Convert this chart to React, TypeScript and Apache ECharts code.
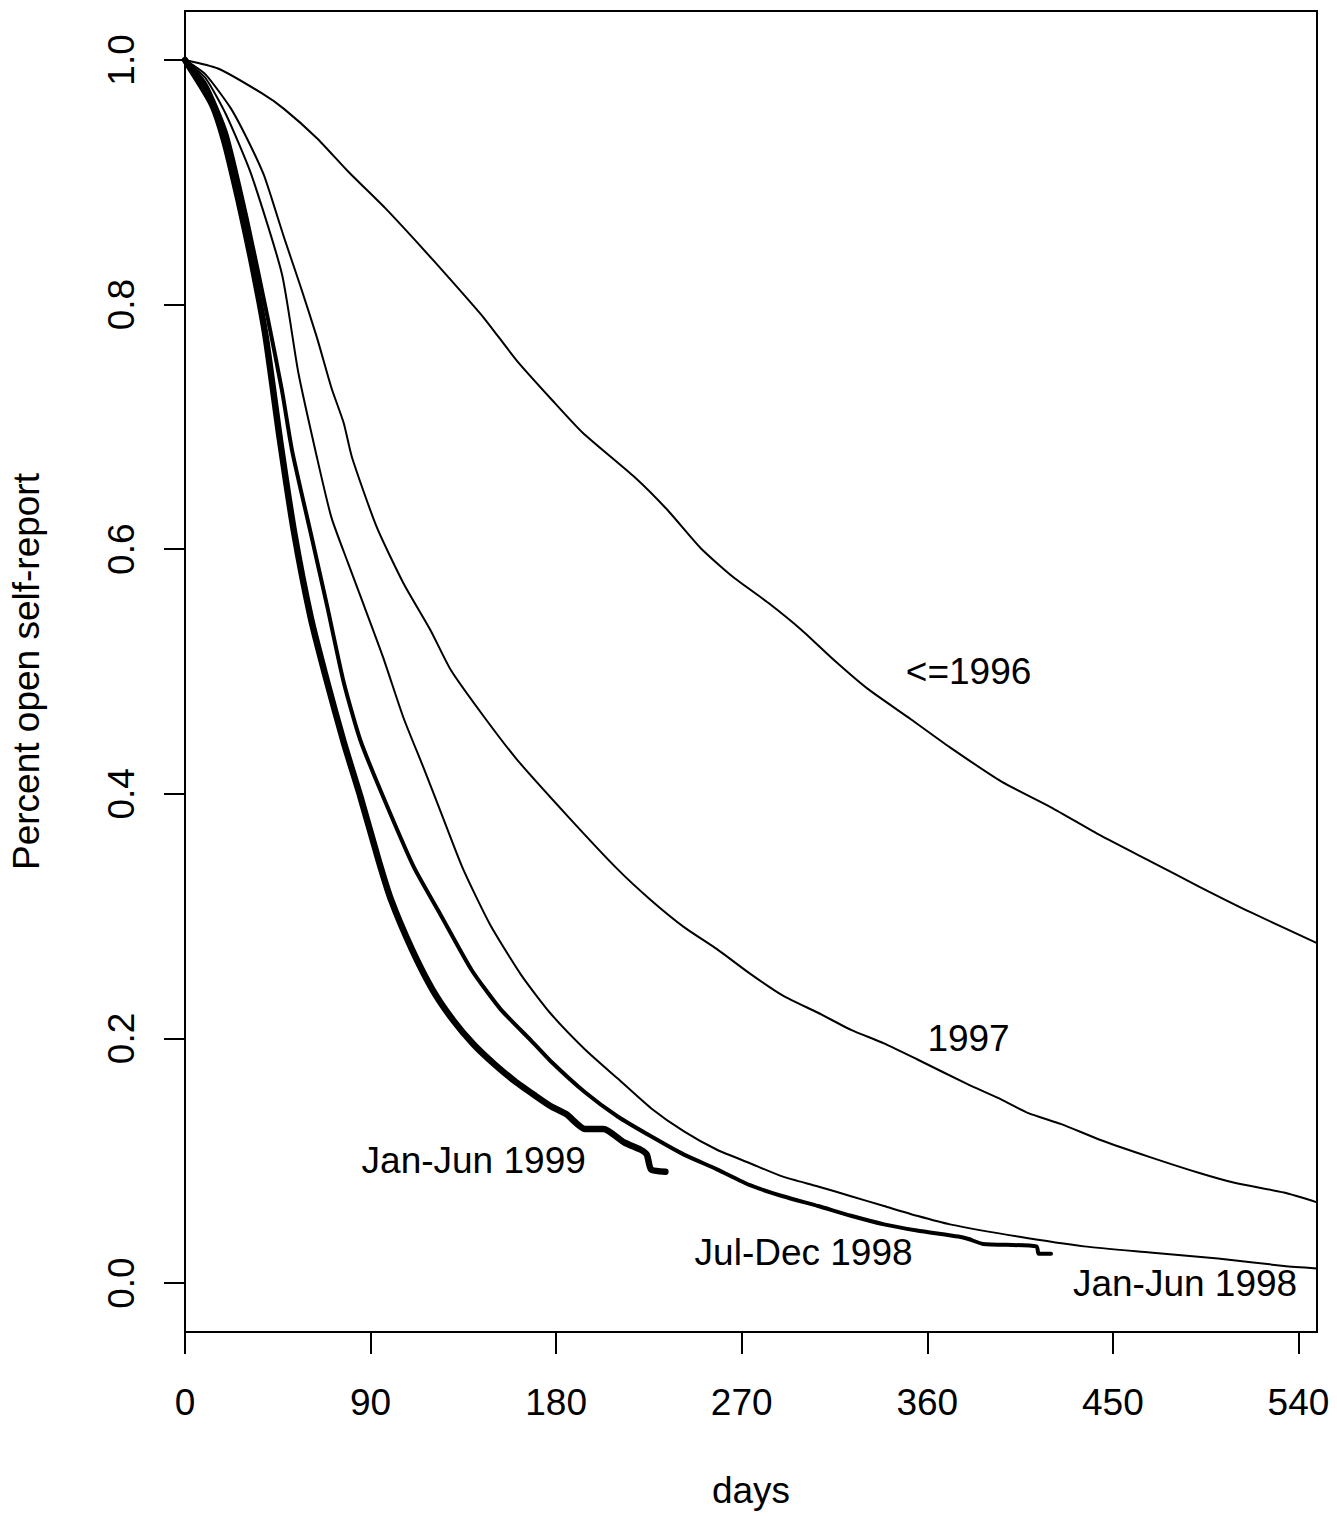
import React, { useEffect, useRef } from "react";
import * as echarts from "echarts";

// ---- data (days, proportion still open) ----
const le1996Days = [0, 16, 37, 48, 64, 79, 97, 113, 129, 145, 161, 178, 193, 218, 234, 250, 266, 283, 299, 315, 331, 352, 371, 396, 420, 444, 468, 492, 517, 549];
const le1996Surv = [1.0, 0.993, 0.973, 0.96, 0.936, 0.909, 0.879, 0.85, 0.82, 0.789, 0.754, 0.722, 0.695, 0.659, 0.632, 0.601, 0.577, 0.556, 0.534, 0.509, 0.486, 0.461, 0.438, 0.41, 0.389, 0.366, 0.345, 0.324, 0.303, 0.278];

const y1997Days = [0, 10, 22, 30, 38, 42, 48, 56, 64, 71, 77, 81, 93, 106, 119, 129, 145, 161, 186, 210, 226, 242, 258, 274, 290, 307, 323, 339, 355, 379, 396, 409, 425, 444, 468, 492, 509, 533, 549];
const y1997Surv = [1.0, 0.988, 0.961, 0.936, 0.907, 0.887, 0.855, 0.815, 0.773, 0.732, 0.703, 0.675, 0.618, 0.572, 0.534, 0.501, 0.463, 0.428, 0.381, 0.338, 0.313, 0.291, 0.273, 0.253, 0.235, 0.221, 0.207, 0.196, 0.183, 0.163, 0.15, 0.139, 0.13, 0.117, 0.103, 0.09, 0.082, 0.074, 0.066];

const janJun98Days = [0, 10, 20, 32, 47, 55, 64, 71, 79, 85, 96, 106, 116, 125, 135, 148, 163, 177, 194, 210, 226, 242, 258, 274, 290, 307, 323, 339, 355, 371, 404, 436, 468, 501, 533, 549];
const janJun98Surv = [1.0, 0.985, 0.955, 0.907, 0.825, 0.744, 0.675, 0.626, 0.589, 0.562, 0.512, 0.462, 0.42, 0.381, 0.338, 0.293, 0.252, 0.221, 0.191, 0.167, 0.143, 0.124, 0.109, 0.098, 0.087, 0.079, 0.071, 0.063, 0.055, 0.048, 0.038, 0.03, 0.025, 0.02, 0.014, 0.012];

const julDec98Days = [0, 10, 20, 30, 40, 47, 52, 61, 69, 77, 85, 96, 111, 124, 139, 153, 168, 177, 194, 210, 226, 242, 258, 274, 290, 307, 323, 339, 355, 375, 380, 387, 413, 414, 420];
const julDec98Surv = [1.0, 0.98, 0.94, 0.87, 0.79, 0.73, 0.68, 0.613, 0.553, 0.491, 0.444, 0.398, 0.34, 0.301, 0.256, 0.224, 0.198, 0.182, 0.156, 0.136, 0.12, 0.105, 0.093, 0.08, 0.071, 0.063, 0.055, 0.048, 0.043, 0.038, 0.036, 0.032, 0.03, 0.024, 0.024];

const janJun99Days = [0, 13, 19, 26, 32, 39, 46, 53, 61, 69, 77, 85, 94, 100, 110, 120, 130, 140, 150, 160, 170, 177, 185, 194, 203, 213, 221, 224, 226, 233];
const janJun99Surv = [1.0, 0.964, 0.934, 0.885, 0.838, 0.775, 0.69, 0.613, 0.544, 0.491, 0.442, 0.398, 0.345, 0.313, 0.273, 0.24, 0.215, 0.195, 0.179, 0.165, 0.153, 0.145, 0.138, 0.126, 0.126, 0.115, 0.109, 0.105, 0.093, 0.091];

const curveNames = ["<=1996", "1997", "Jan-Jun 1998", "Jul-Dec 1998", "Jan-Jun 1999"];
const curveWidths = [2, 2, 2, 4, 6.5];

const labelTexts = ["<=1996", "1997", "Jan-Jun 1999", "Jul-Dec 1998", "Jan-Jun 1998"];
const labelDays = [380, 380, 140, 300, 485];
const labelSurv = [0.5, 0.2, 0.1, 0.025, 0];

const xTicks = [0, 90, 180, 270, 360, 450, 540];
const yTicks = [0, 0.2, 0.4, 0.6, 0.8, 1.0];

const FONT = "'Liberation Sans', Arial, Helvetica, sans-serif";

const zip = (d: number[], s: number[]) => d.map((v, i) => [v, s[i]]);

export default function App() {
  const ref = useRef<HTMLDivElement>(null);
  useEffect(() => {
    if (!ref.current) return;
    const chart = echarts.init(ref.current, null, { renderer: "svg" });
    const curves = [
      zip(le1996Days, le1996Surv),
      zip(y1997Days, y1997Surv),
      zip(janJun98Days, janJun98Surv),
      zip(julDec98Days, julDec98Surv),
      zip(janJun99Days, janJun99Surv),
    ];
    const lineSeries = curves.map((data, i) => ({
      type: "line",
      name: curveNames[i],
      data,
      symbol: "none",
      showSymbol: false,
      silent: true,
      smooth: 0.2,
      lineStyle: { color: "#000", width: curveWidths[i], join: "round", cap: "round" },
      z: 3,
    }));
    const labelSeries = {
      type: "scatter",
      data: labelTexts.map((t, i) => ({ name: t, value: [labelDays[i], labelSurv[i]] })),
      symbolSize: 0,
      silent: true,
      itemStyle: { color: "#fff", opacity: 1 },
      label: {
        show: true,
        position: "inside",
        formatter: "{b}",
        color: "#000",
        opacity: 1,
        fontSize: 37,
        fontFamily: FONT,
      },
      z: 5,
    };
    chart.setOption({
      animation: false,
      backgroundColor: "#fff",
      grid: {
        left: 184,
        top: 11,
        right: 20,
        bottom: 184,
        show: true,
        borderColor: "#000",
        borderWidth: 2,
        backgroundColor: "transparent",
      },
      xAxis: {
        type: "value",
        min: 0,
        max: 549,
        name: "days",
        nameLocation: "middle",
        nameGap: 140,
        nameTextStyle: { fontSize: 37, fontFamily: FONT, color: "#000" },
        axisLine: { show: false, onZero: false },
        splitLine: { show: false },
        axisTick: {
          show: true,
          length: 22,
          lineStyle: { color: "#000", width: 2 },
          customValues: xTicks,
        },
        axisLabel: {
          show: true,
          margin: 52,
          fontSize: 37,
          fontFamily: FONT,
          color: "#000",
          customValues: xTicks,
          formatter: (v: number) => String(v),
        },
      },
      yAxis: {
        type: "value",
        min: -0.04,
        max: 1.04,
        name: "Percent open self-report",
        nameLocation: "middle",
        nameGap: 140,
        nameRotate: 90,
        nameTextStyle: { fontSize: 37, fontFamily: FONT, color: "#000" },
        axisLine: { show: false, onZero: false },
        splitLine: { show: false },
        axisTick: {
          show: true,
          length: 21,
          lineStyle: { color: "#000", width: 2 },
          customValues: yTicks,
        },
        axisLabel: {
          show: true,
          rotate: 90,
          margin: 45,
          fontSize: 37,
          fontFamily: FONT,
          color: "#000",
          customValues: yTicks,
          formatter: (v: number) => v.toFixed(1),
        },
      },
      series: [...lineSeries, labelSeries],
    });
    return () => chart.dispose();
  }, []);
  return (
    <div
      ref={ref}
      style={{ position: "fixed", left: 0, top: 0, width: 1337, height: 1516, background: "#fff" }}
    />
  );
}
